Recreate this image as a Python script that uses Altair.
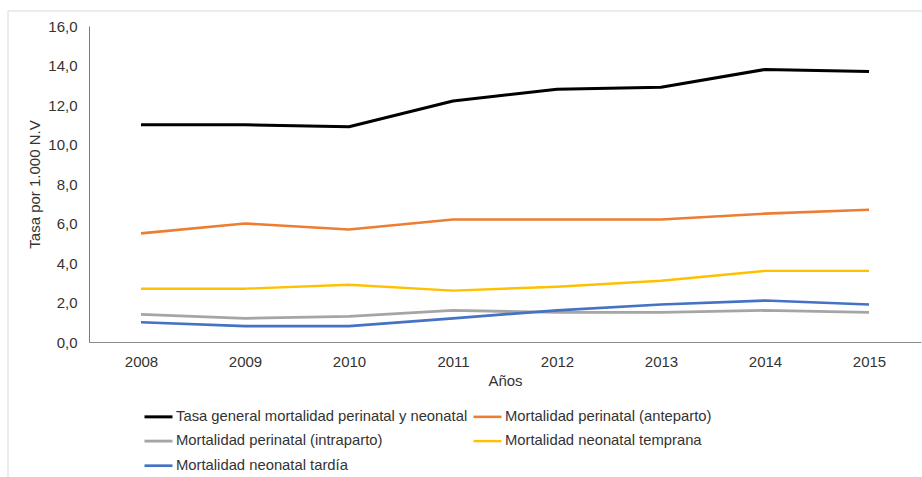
import altair as alt
import pandas as pd

# Years on the horizontal axis
years = ["2008", "2009", "2010", "2011", "2012", "2013", "2014", "2015"]

# Rates per 1,000 live births, one list per series
tasa_general = [11.0, 11.0, 10.9, 12.2, 12.8, 12.9, 13.8, 13.7]
perinatal_anteparto = [5.5, 6.0, 5.7, 6.2, 6.2, 6.2, 6.5, 6.7]
perinatal_intraparto = [1.4, 1.2, 1.3, 1.6, 1.5, 1.5, 1.6, 1.5]
neonatal_temprana = [2.7, 2.7, 2.9, 2.6, 2.8, 3.1, 3.6, 3.6]
neonatal_tardia = [1.0, 0.8, 0.8, 1.2, 1.6, 1.9, 2.1, 1.9]

series_names = [
    "Tasa general mortalidad perinatal y neonatal",
    "Mortalidad perinatal (anteparto)",
    "Mortalidad perinatal (intraparto)",
    "Mortalidad neonatal temprana",
    "Mortalidad neonatal tardía",
]
series_values = [
    tasa_general,
    perinatal_anteparto,
    perinatal_intraparto,
    neonatal_temprana,
    neonatal_tardia,
]
series_colors = ["#000000", "#ED7D31", "#A5A5A5", "#FFC000", "#4472C4"]
series_widths = [3.0, 2.4, 2.4, 2.4, 2.4]

# The legend fills column by column, so list the entries in that order
# to read row by row: left column gets entries 0, 2, 4 and right gets 1, 3.
legend_order = [0, 2, 4, 1, 3]
legend_names = [series_names[i] for i in legend_order]
legend_colors = [series_colors[i] for i in legend_order]
legend_widths = [series_widths[i] for i in legend_order]

y_ticks = [0, 2, 4, 6, 8, 10, 12, 14, 16]

rows = []
for name, values in zip(series_names, series_values):
    for year, v in zip(years, values):
        rows.append({"Año": year, "Serie": name, "Tasa": v})
df = pd.DataFrame(rows)

FONT = "Liberation Sans"
TEXT = "#333333"

lines = (
    alt.Chart(df)
    .mark_line(strokeJoin="round", strokeCap="butt")
    .encode(
        x=alt.X(
            "Año:N",
            sort=years,
            scale=alt.Scale(type="point", padding=0.5),
            axis=alt.Axis(
                title="Años",
                labelAngle=0,
                ticks=False,
                tickSize=0,
                labelPadding=12,
                titlePadding=4,
                domainColor="#8c8c8c",
                domainWidth=1,
                grid=False,
            ),
        ),
        y=alt.Y(
            "Tasa:Q",
            scale=alt.Scale(domain=[0, 16], nice=False),
            axis=alt.Axis(
                title="Tasa por 1.000 N.V",
                values=y_ticks,
                labelExpr="replace(format(datum.value, '.1f'), '.', ',')",
                ticks=False,
                tickSize=0,
                labelPadding=12,
                titlePadding=5,
                domainColor="#7a7a7a",
                domainWidth=1,
                grid=False,
            ),
        ),
        color=alt.Color(
            "Serie:N",
            scale=alt.Scale(domain=legend_names, range=legend_colors),
            legend=alt.Legend(
                title=None,
                orient="none",
                legendX=54,
                legendY=375,
                columns=2,
                columnPadding=0,
                rowPadding=1.6,
                padding=0,
                symbolType="stroke",
                symbolSize=784,
                symbolStrokeWidth=2.5,
                labelOffset=2,
                labelFont=FONT,
                labelFontSize=14.8,
                labelColor=TEXT,
                labelLimit=400,
            ),
        ),
        strokeWidth=alt.StrokeWidth(
            "Serie:N",
            scale=alt.Scale(domain=legend_names, range=legend_widths),
            legend=None,
        ),
    )
)

# Light frame around the chart area (top and left edges)
frame_data = alt.Data(values=[{}])
frame_top = (
    alt.Chart(frame_data)
    .mark_rule(color="#d9d9d9", strokeWidth=1)
    .encode(x=alt.value(-81), x2=alt.value(840), y=alt.value(-15))
)
frame_left = (
    alt.Chart(frame_data)
    .mark_rule(color="#d9d9d9", strokeWidth=1)
    .encode(x=alt.value(-81), y=alt.value(-15), y2=alt.value(460))
)

chart = (
    alt.layer(frame_top, frame_left, lines)
    .properties(
        width=832,
        height=316,
        autosize=alt.AutoSizeParams(type="none"),
        padding={"left": 89, "top": 26, "right": 1, "bottom": 135},
        background="white",
    )
    .configure_view(stroke=None)
    .configure_axis(
        labelFont=FONT,
        labelFontSize=15,
        labelColor=TEXT,
        titleFont=FONT,
        titleFontSize=15,
        titleFontWeight="normal",
        titleColor=TEXT,
    )
)

chart.save("out.html", embed_options={"renderer": "svg", "actions": False})
